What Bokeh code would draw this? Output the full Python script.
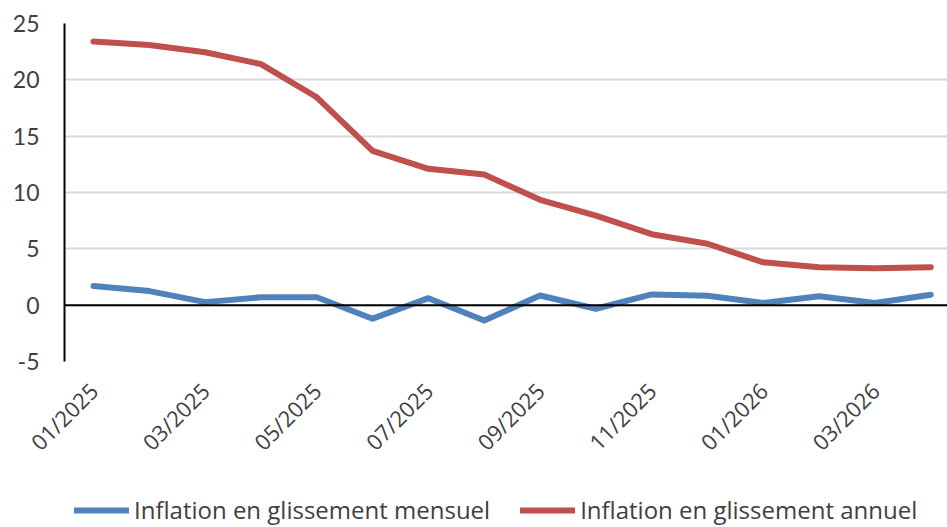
from bokeh.plotting import figure
from bokeh.layouts import column
from bokeh.models import ColumnDataSource, FixedTicker, Legend, LegendItem, Span, Range1d
from bokeh.embed import file_html
from bokeh.resources import INLINE
import math

months = ["01/2025", "02/2025", "03/2025", "04/2025", "05/2025", "06/2025", "07/2025", "08/2025",
          "09/2025", "10/2025", "11/2025", "12/2025", "01/2026", "02/2026", "03/2026", "04/2026"]
mensuel = [1.7, 1.25, 0.27, 0.7, 0.7, -1.2, 0.62, -1.36, 0.86, -0.32, 0.95, 0.83, 0.2, 0.8, 0.2, 0.92]
annuel = [23.4, 23.1, 22.45, 21.4, 18.45, 13.7, 12.1, 11.6, 9.35, 7.95, 6.3, 5.45, 3.8, 3.37, 3.28, 3.37]
series_names = ["Inflation en glissement mensuel", "Inflation en glissement annuel"]
series_colors = ["#4F81BD", "#C0504D"]
y_ticks = [-5, 0, 5, 10, 15, 20, 25]
y_labels = ["-5", "0", "5", "10", "15", "20", "25"]

idx = list(range(len(months)))
src = ColumnDataSource(dict(x=idx, mensuel=mensuel, annuel=annuel))

p = figure(width=947, height=490, output_backend="svg", toolbar_location=None,
           x_range=Range1d(-0.52, 15.3), y_range=Range1d(-5, 25))
p.min_border_left = 64
p.min_border_top = 23
p.min_border_right = 0
p.min_border_bottom = 129
p.outline_line_color = None
p.background_fill_color = "white"
p.border_fill_color = "white"

# grid
p.xgrid.grid_line_color = None
p.ygrid.grid_line_color = "#D9D9D9"
p.ygrid.grid_line_width = 2
p.ygrid.ticker = FixedTicker(ticks=y_ticks)

# y axis
p.yaxis.ticker = FixedTicker(ticks=y_ticks)
p.yaxis.major_label_overrides = {t: l for t, l in zip(y_ticks, y_labels)}
p.yaxis.axis_line_color = "black"
p.yaxis.axis_line_width = 2
p.yaxis.major_tick_line_color = None
p.yaxis.minor_tick_line_color = None
p.yaxis.major_tick_out = 0
p.yaxis.major_label_standoff = 25
p.yaxis.major_label_text_font = "Lato"
p.yaxis.major_label_text_font_size = "23px"
p.yaxis.major_label_text_color = "#404040"

# x axis
p.xaxis.ticker = FixedTicker(ticks=idx[::2])
p.xaxis.major_label_overrides = {i: months[i] for i in idx}
p.xaxis.axis_line_color = None
p.xaxis.major_tick_line_color = None
p.xaxis.minor_tick_line_color = None
p.xaxis.major_tick_out = 0
p.xaxis.major_label_orientation = math.pi / 4
p.xaxis.major_label_standoff = 25
p.xaxis.major_label_text_font = "Open Sans"
p.xaxis.major_label_text_font_size = "22px"
p.xaxis.major_label_text_color = "#404040"

zero = Span(location=0, dimension="width", line_color="black", line_width=2)
p.add_layout(zero)

p.line("x", "mensuel", source=src, line_color=series_colors[0], line_width=6,
       line_cap="round", line_join="round")
p.line("x", "annuel", source=src, line_color=series_colors[1], line_width=6,
       line_cap="round", line_join="round")

# legend strip below the chart
lg = figure(width=947, height=37, output_backend="svg", toolbar_location=None,
            x_range=Range1d(0, 1), y_range=Range1d(0, 1))
lg.axis.visible = False
lg.grid.visible = False
lg.outline_line_color = None
lg.min_border_left = 0
lg.min_border_right = 0
lg.min_border_top = 0
lg.min_border_bottom = 0
nan = float("nan")
items = []
for name, col in zip(series_names, series_colors):
    r = lg.line(x=[nan, nan], y=[nan, nan], line_color=col, line_width=6, line_cap="round")
    items.append(LegendItem(label=name, renderers=[r]))
legend = Legend(items=items, orientation="horizontal", location=(10, 1))
legend.label_text_font = "Open Sans"
legend.label_text_font_size = "24px"
legend.label_text_color = "#404040"
legend.glyph_width = 55
legend.glyph_height = 28
legend.label_height = 28
legend.label_standoff = 5
legend.spacing = 30
legend.padding = 0
legend.margin = 0
legend.border_line_color = None
legend.background_fill_alpha = 0
lg.add_layout(legend, "center")

layout = column(p, lg, spacing=0)
open("out.html", "w").write(file_html(layout, INLINE))
